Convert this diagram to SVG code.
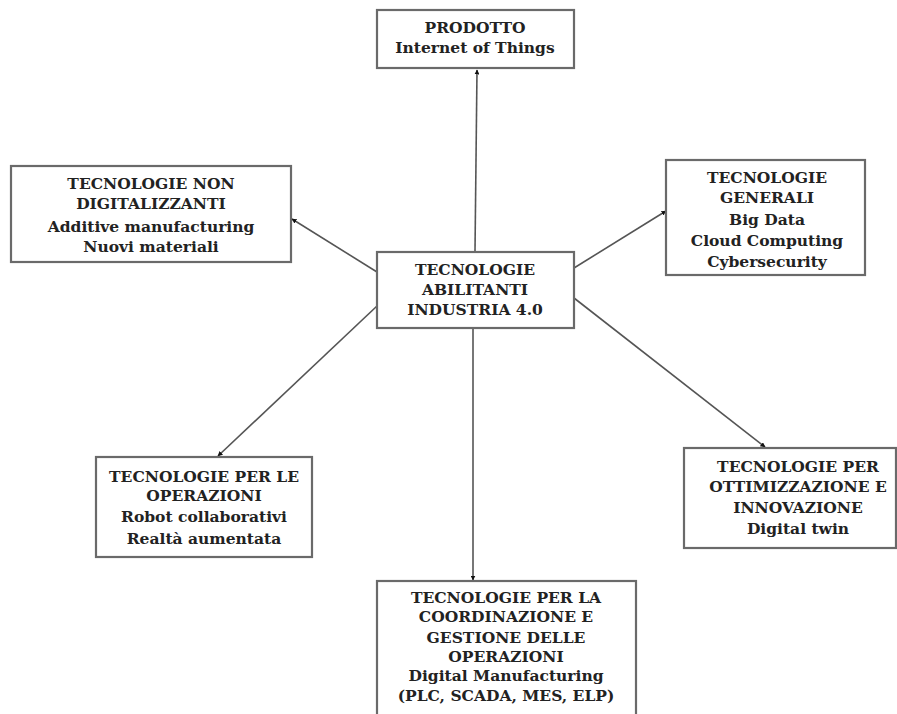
<svg xmlns="http://www.w3.org/2000/svg" width="897" height="714" viewBox="0 0 897 714">
<style>
.box{fill:#fff;stroke:#6a6a6a;stroke-width:2.2}
.t{font-family:"DejaVu Serif","Liberation Serif",serif;font-weight:bold;font-size:15.5px;fill:#222;text-anchor:middle}
.c{stroke:#555;stroke-width:1.6;fill:none;marker-end:url(#ah)}
</style>
<defs>
<marker id="ah" viewBox="0 0 10 10" refX="9" refY="5" markerWidth="5" markerHeight="5" orient="auto" markerUnits="userSpaceOnUse">
<path d="M0,0 L10,5 L0,10 z" fill="#111"/>
</marker>
</defs>
<rect width="897" height="714" fill="#fff"/>
<g id="connectors">
<line class="c" x1="475" y1="251" x2="477" y2="70"/>
<line class="c" x1="377" y1="272" x2="292" y2="219"/>
<line class="c" x1="574" y1="268" x2="666" y2="211"/>
<line class="c" x1="377" y1="306" x2="218" y2="456"/>
<line class="c" x1="473" y1="329" x2="473" y2="580"/>
<line class="c" x1="574" y1="298" x2="765" y2="447"/>
</g>
<g id="prodotto">
<rect class="box" x="377" y="10" width="197" height="58"/>
<text class="t" x="475" y="33">PRODOTTO</text>
<text class="t" x="475" y="53">Internet of Things</text>
</g>
<g id="non-digitalizzanti">
<rect class="box" x="11" y="166" width="280" height="96"/>
<text class="t" x="151" y="189">TECNOLOGIE NON</text>
<text class="t" x="151" y="209">DIGITALIZZANTI</text>
<text class="t" x="151" y="232">Additive manufacturing</text>
<text class="t" x="151" y="252">Nuovi materiali</text>
</g>
<g id="abilitanti">
<rect class="box" x="377" y="252" width="197" height="76"/>
<text class="t" x="475" y="275">TECNOLOGIE</text>
<text class="t" x="475" y="295">ABILITANTI</text>
<text class="t" x="475" y="315">INDUSTRIA 4.0</text>
</g>
<g id="generali">
<rect class="box" x="666" y="160" width="199" height="115"/>
<text class="t" x="767" y="183">TECNOLOGIE</text>
<text class="t" x="767" y="203">GENERALI</text>
<text class="t" x="767" y="225">Big Data</text>
<text class="t" x="767" y="246">Cloud Computing</text>
<text class="t" x="767" y="267">Cybersecurity</text>
</g>
<g id="operazioni">
<rect class="box" x="96" y="457" width="216" height="100"/>
<text class="t" x="204" y="482">TECNOLOGIE PER LE</text>
<text class="t" x="204" y="501">OPERAZIONI</text>
<text class="t" x="204" y="522">Robot collaborativi</text>
<text class="t" x="204" y="544">Realtà aumentata</text>
</g>
<g id="ottimizzazione">
<rect class="box" x="684" y="448" width="212" height="100"/>
<text class="t" x="798" y="472">TECNOLOGIE PER</text>
<text class="t" x="798" y="492">OTTIMIZZAZIONE E</text>
<text class="t" x="798" y="513">INNOVAZIONE</text>
<text class="t" x="798" y="534">Digital twin</text>
</g>
<g id="coordinazione">
<rect class="box" x="377" y="581" width="259" height="150"/>
<text class="t" x="506" y="603">TECNOLOGIE PER LA</text>
<text class="t" x="506" y="622">COORDINAZIONE E</text>
<text class="t" x="506" y="643">GESTIONE DELLE</text>
<text class="t" x="506" y="662">OPERAZIONI</text>
<text class="t" x="506" y="681">Digital Manufacturing</text>
<text class="t" x="506" y="701">(PLC, SCADA, MES, ELP)</text>
</g>
</svg>
